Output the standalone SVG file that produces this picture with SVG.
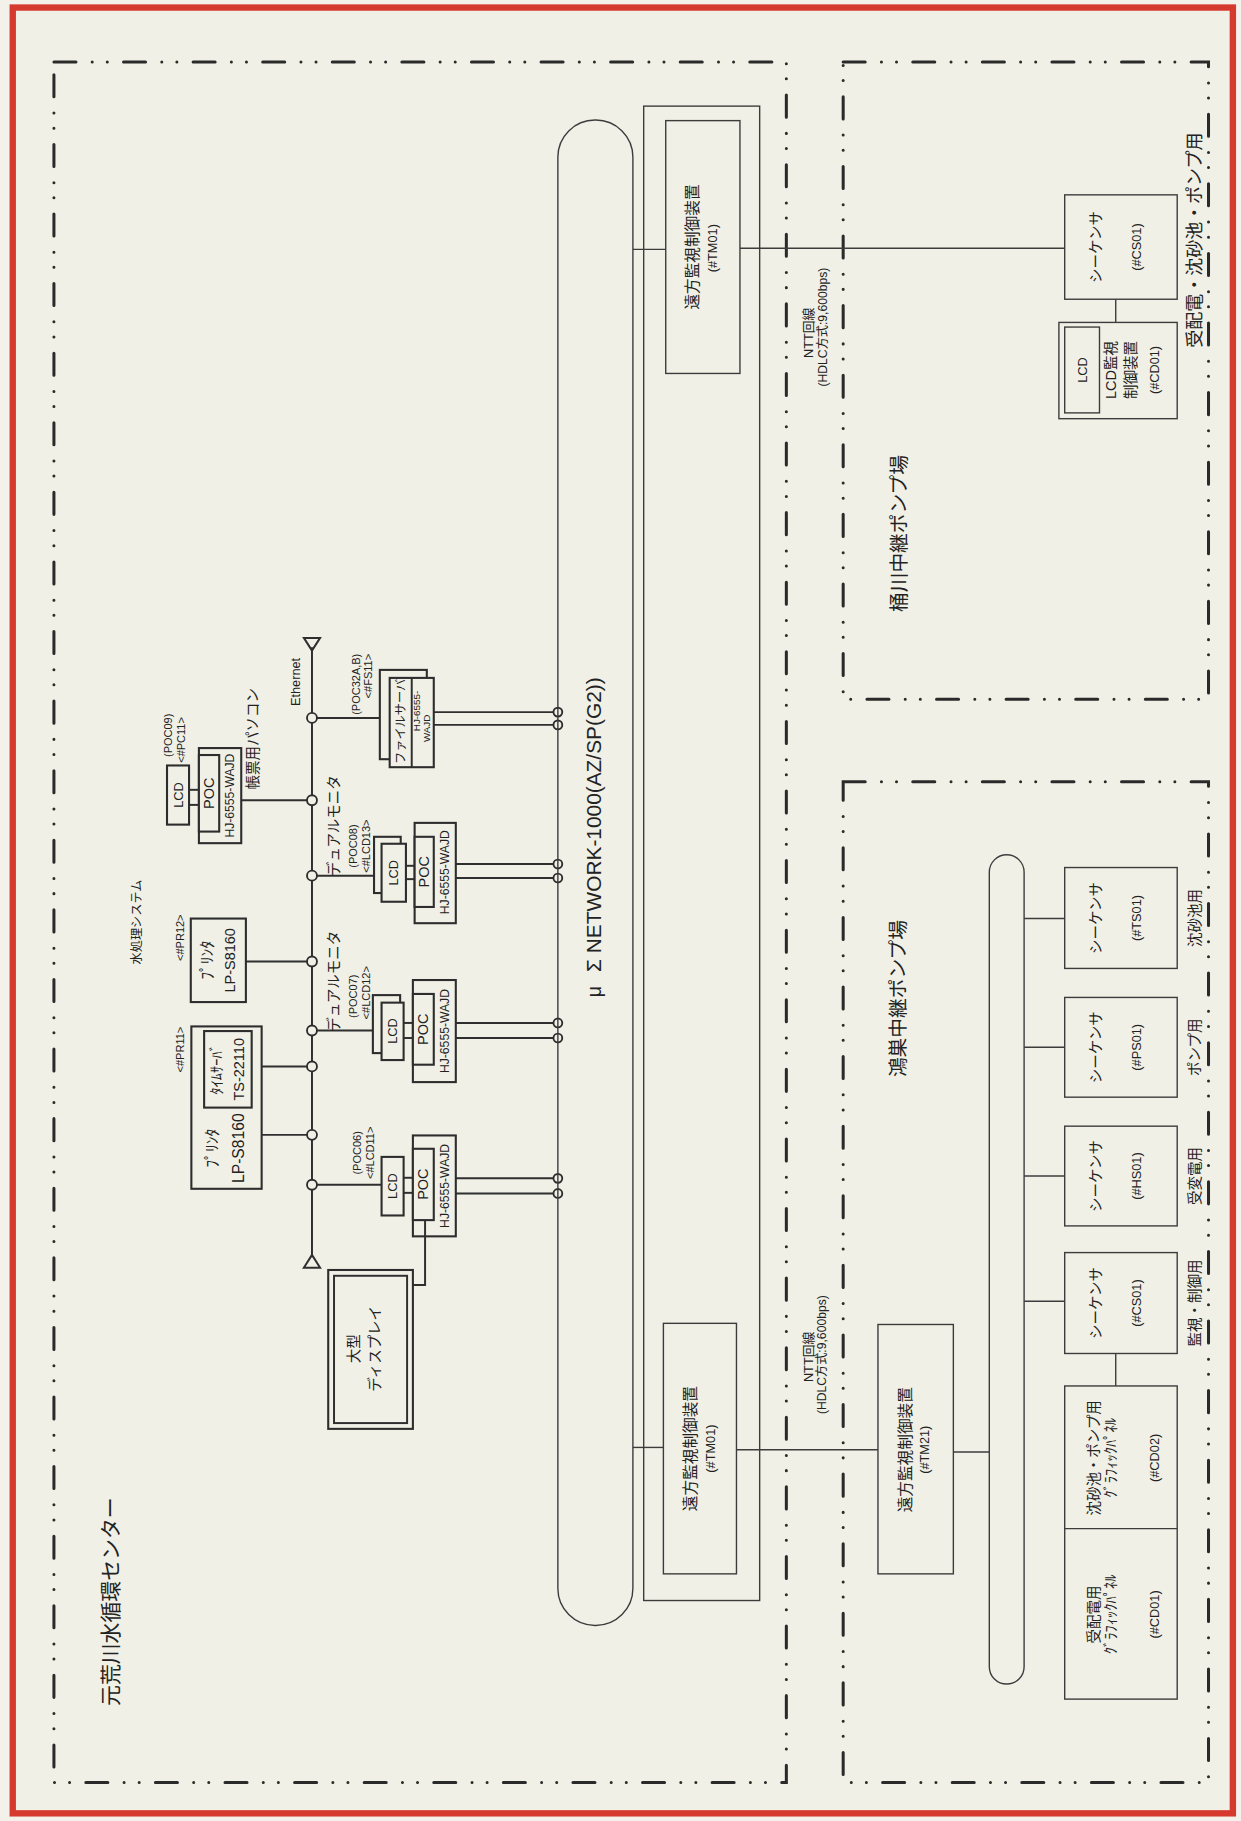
<svg xmlns="http://www.w3.org/2000/svg" width="1241" height="1821" viewBox="0 0 1241 1821">
<style>
.ln{stroke:#2f2f2f;stroke-width:1.7;fill:none}
.th{stroke:#3c3c3c;stroke-width:1.2;fill:none}
.bx{stroke:#2d2d2d;stroke-width:1.8;fill:#f0f0e7}
.tb{stroke:#3c3c3c;stroke-width:1.2;fill:#f0f0e7}
.dd{stroke:#2a2a2a;stroke-width:2.6;fill:none;stroke-linecap:round;stroke-dasharray:19 14 0 13 0 14}
.cn{stroke:#2d2d2d;stroke-width:1.6;fill:#f0f0e7}
text{font-family:"Liberation Sans","Noto Sans CJK JP",sans-serif;fill:#222;text-anchor:middle;dominant-baseline:central}
.f9{font-size:9.5px}
.f10{font-size:10.5px}
.f11{font-size:11px}
.f12{font-size:12.5px}
.f13{font-size:13.5px}
.f15{font-size:15.5px}
.f17{font-size:17px}
.f18{font-size:18px}
</style>
<rect width="1241" height="1821" fill="#f3f1ea"/>
<g transform="scale(1.1598)">
<rect x="11" y="6.5" width="1052" height="1557" fill="#f0f0e7" stroke="#d63a2f" stroke-width="5.5"/>

<g id="zones">
<path class="dd" d="M46.5 53.5H678V1537H46.5Z"/>
<path class="dd" d="M727 53.5H1042V603H727Z"/>
<path class="dd" d="M727 674H1042V1537H727Z"/>
<text class="f18" transform="translate(95 1381) rotate(-90)">元荒川水循環センター</text>
<text class="f17" transform="translate(775 460) rotate(-90)">桶川中継ポンプ場</text>
<text class="f17" transform="translate(774 861) rotate(-90)">鴻巣中継ポンプ場</text>
<text class="f10" transform="translate(118 795) rotate(-90)">水処理システム</text>
</g>

<g id="connectors">
<line class="ln" x1="269" y1="558" x2="269" y2="1084"/>
<polygon class="ln" points="262,550 276,550 269,561"/>
<polygon class="ln" points="269,1082 262,1093 276,1093"/>
<line class="ln" x1="208" y1="690" x2="269" y2="690"/>
<line class="ln" x1="269" y1="619" x2="327.5" y2="619"/>
<line class="ln" x1="374" y1="614" x2="481" y2="614"/>
<line class="ln" x1="374" y1="625" x2="481" y2="625"/>
<line class="ln" x1="212" y1="829" x2="269" y2="829"/>
<line class="ln" x1="269" y1="755" x2="322.5" y2="755"/>
<line class="ln" x1="393" y1="745" x2="481" y2="745"/>
<line class="ln" x1="393" y1="757" x2="481" y2="757"/>
<line class="ln" x1="225.6" y1="919.5" x2="269" y2="919.5"/>
<line class="ln" x1="225.6" y1="978.5" x2="269" y2="978.5"/>
<line class="ln" x1="269" y1="888.5" x2="321.5" y2="888.5"/>
<line class="ln" x1="393" y1="882" x2="481" y2="882"/>
<line class="ln" x1="393" y1="895" x2="481" y2="895"/>
<line class="ln" x1="269" y1="1021.5" x2="329" y2="1021.5"/>
<line class="ln" x1="393" y1="1016" x2="481" y2="1016"/>
<line class="ln" x1="393" y1="1029" x2="481" y2="1029"/>
<polyline class="ln" points="366.5,1052 366.5,1108 356,1108"/>
<line class="th" x1="545.7" y1="215" x2="574" y2="215"/>
<line class="th" x1="638" y1="214" x2="918" y2="214"/>
<line class="th" x1="545.7" y1="1248" x2="572" y2="1248"/>
<line class="th" x1="635" y1="1250" x2="757" y2="1250"/>
<line class="th" x1="822" y1="1252" x2="853" y2="1252"/>
<line class="th" x1="883" y1="792" x2="918" y2="792"/>
<line class="th" x1="883" y1="903" x2="918" y2="903"/>
<line class="th" x1="883" y1="1014" x2="918" y2="1014"/>
<line class="th" x1="883" y1="1122" x2="918" y2="1122"/>
<line class="th" x1="962" y1="1167" x2="962" y2="1195"/>
<line class="th" x1="962" y1="258" x2="962" y2="278"/>
<circle class="cn" cx="269" cy="619" r="4.3"/>
<circle class="cn" cx="269" cy="690" r="4.3"/>
<circle class="cn" cx="269" cy="755" r="4.3"/>
<circle class="cn" cx="269" cy="829" r="4.3"/>
<circle class="cn" cx="269" cy="888.5" r="4.3"/>
<circle class="cn" cx="269" cy="919.5" r="4.3"/>
<circle class="cn" cx="269" cy="978.5" r="4.3"/>
<circle class="cn" cx="269" cy="1021.5" r="4.3"/>
<circle class="cn" cx="481" cy="614" r="3.8"/>
<circle class="cn" cx="481" cy="625" r="3.8"/>
<circle class="cn" cx="481" cy="745" r="3.8"/>
<circle class="cn" cx="481" cy="757" r="3.8"/>
<circle class="cn" cx="481" cy="882" r="3.8"/>
<circle class="cn" cx="481" cy="895" r="3.8"/>
<circle class="cn" cx="481" cy="1016" r="3.8"/>
<circle class="cn" cx="481" cy="1029" r="3.8"/>
<text class="f11" transform="translate(255 588) rotate(-90)">Ethernet</text>
<text class="f11" transform="translate(697 287) rotate(-90)">NTT回線</text>
<text class="f10" transform="translate(710 282) rotate(-90)">(HDLC方式:9,600bps)</text>
<text class="f11" transform="translate(697 1170) rotate(-90)">NTT回線</text>
<text class="f10" transform="translate(709 1168) rotate(-90)">(HDLC方式:9,600bps)</text>
</g>

<g id="pc-poc09">
<rect class="bx" x="171.5" y="645" width="36.5" height="82"/>
<rect class="bx" x="171.5" y="651" width="17.5" height="66"/>
<rect class="bx" x="144" y="660" width="19" height="51"/>
<line class="ln" x1="163" y1="681" x2="171.5" y2="681"/>
<line class="ln" x1="163" y1="694" x2="171.5" y2="694"/>
<text class="f11" transform="translate(153.5 685.5) rotate(-90)">LCD</text>
<text class="f12" transform="translate(180.5 684) rotate(-90)">POC</text>
<text class="f10" transform="translate(198.5 686) rotate(-90)">HJ-6555-WAJD</text>
<text class="f9" transform="translate(145 634) rotate(-90)">(POC09)</text>
<text class="f9" transform="translate(156 638) rotate(-90)">&lt;#PC11&gt;</text>
<text class="f12" transform="translate(218 637) rotate(-90)">帳票用パソコン</text>
</g>

<g id="file-server">
<rect class="bx" x="327.5" y="577.6" width="40.5" height="77"/>
<rect class="bx" x="336" y="584.5" width="38" height="77"/>
<line class="ln" x1="355" y1="584.5" x2="355" y2="661.5"/>
<text class="f10" transform="translate(345.5 622) rotate(-90)">ファイルサーバ</text>
<text style="font-size:8.5px" transform="translate(359.5 613) rotate(-90)">HJ-6555-</text>
<text style="font-size:8.5px" transform="translate(368 628) rotate(-90)">WAJD</text>
<text class="f9" transform="translate(307 590) rotate(-90)">(POC32A,B)</text>
<text class="f9" transform="translate(317.5 583) rotate(-90)">&lt;#FS11&gt;</text>
</g>

<g id="dual-poc08">
<rect class="bx" x="322.5" y="721.5" width="23" height="48.5"/>
<rect class="bx" x="329" y="727.5" width="21" height="50"/>
<rect class="bx" x="357.5" y="709.5" width="35.5" height="86.5"/>
<rect class="bx" x="357.5" y="721.5" width="16.5" height="60.5"/>
<line class="ln" x1="350" y1="746.5" x2="357.5" y2="746.5"/>
<line class="ln" x1="350" y1="758" x2="357.5" y2="758"/>
<text class="f11" transform="translate(339.5 752.5) rotate(-90)">LCD</text>
<text class="f12" transform="translate(365.8 751.7) rotate(-90)">POC</text>
<text class="f10" transform="translate(383.5 752) rotate(-90)">HJ-6555-WAJD</text>
<text class="f12" transform="translate(288 712) rotate(-90)">デュアルモニタ</text>
<text class="f9" transform="translate(304.5 729.5) rotate(-90)">(POC08)</text>
<text class="f9" transform="translate(315.5 729.5) rotate(-90)">&lt;#LCD13&gt;</text>
</g>

<g id="printer-pr12">
<rect class="bx" x="164.5" y="792" width="47.5" height="72"/>
<text class="f13" transform="translate(179 828) rotate(-90)">ﾌﾟﾘﾝﾀ</text>
<text class="f12" transform="translate(198 828) rotate(-90)">LP-S8160</text>
<text class="f9" transform="translate(155 808.5) rotate(-90)">&lt;#PR12&gt;</text>
</g>

<g id="printer-pr11">
<rect class="bx" x="165" y="885" width="60.6" height="140"/>
<rect class="bx" x="176" y="889" width="41" height="66"/>
<text class="f12" transform="translate(187 922) rotate(-90)">ﾀｲﾑｻｰﾊﾞ</text>
<text class="f12" transform="translate(206 922) rotate(-90)">TS-22110</text>
<text class="f13" transform="translate(183 990) rotate(-90)">ﾌﾟﾘﾝﾀ</text>
<text class="f13" transform="translate(206 990) rotate(-90)">LP-S8160</text>
<text class="f9" transform="translate(155 905) rotate(-90)">&lt;#PR11&gt;</text>
</g>

<g id="dual-poc07">
<rect class="bx" x="321.5" y="858" width="23.5" height="50"/>
<rect class="bx" x="329" y="864.5" width="19" height="49.5"/>
<rect class="bx" x="356" y="845" width="37" height="88"/>
<rect class="bx" x="356" y="857" width="18" height="61"/>
<line class="ln" x1="348" y1="882" x2="356" y2="882"/>
<line class="ln" x1="348" y1="895" x2="356" y2="895"/>
<text class="f11" transform="translate(338.5 889) rotate(-90)">LCD</text>
<text class="f12" transform="translate(365 887.5) rotate(-90)">POC</text>
<text class="f10" transform="translate(383.5 889) rotate(-90)">HJ-6555-WAJD</text>
<text class="f12" transform="translate(288 846) rotate(-90)">デュアルモニタ</text>
<text class="f9" transform="translate(304.5 859) rotate(-90)">(POC07)</text>
<text class="f9" transform="translate(315.5 856) rotate(-90)">&lt;#LCD12&gt;</text>
</g>

<g id="poc06">
<rect class="bx" x="329" y="997.5" width="19" height="50.5"/>
<rect class="bx" x="356" y="979" width="37" height="87"/>
<rect class="bx" x="356" y="990.5" width="18" height="61.5"/>
<line class="ln" x1="348" y1="1015.5" x2="356" y2="1015.5"/>
<line class="ln" x1="348" y1="1028.5" x2="356" y2="1028.5"/>
<line class="ln" x1="366.5" y1="1052" x2="366.5" y2="1066"/>
<text class="f11" transform="translate(338.5 1022.7) rotate(-90)">LCD</text>
<text class="f12" transform="translate(365 1021) rotate(-90)">POC</text>
<text class="f10" transform="translate(383.5 1022.5) rotate(-90)">HJ-6555-WAJD</text>
<text class="f9" transform="translate(307.5 994) rotate(-90)">(POC06)</text>
<text class="f9" transform="translate(319 994) rotate(-90)">&lt;#LCD11&gt;</text>
</g>

<g id="large-display">
<rect class="bx" x="283" y="1095" width="73" height="137" stroke-width="2.4"/>
<rect class="ln" x="288" y="1100" width="63" height="127" stroke-width="1.3"/>
<text class="f12" transform="translate(305 1163) rotate(-90)">大型</text>
<text class="f12" transform="translate(323 1163) rotate(-90)">ディスプレイ</text>
</g>

<g id="network">
<rect class="th" x="481" y="103.5" width="64.7" height="1298" rx="32"/>
<text class="f17" transform="translate(512 855) rotate(-90)">μ</text>
<text class="f18" transform="translate(512 838) rotate(-90)" style="text-anchor:start">Σ NETWORK-1000(AZ/SP(G2))</text>
</g>

<g id="tm-frame">
<rect class="th" x="555" y="91.5" width="100" height="1288.5"/>
</g>

<g id="tm01-upper">
<rect class="tb" x="574" y="104" width="64" height="218"/>
<text class="f13" transform="translate(597.5 213) rotate(-90)">遠方監視制御装置</text>
<text class="f11" transform="translate(614.5 214) rotate(-90)">(#TM01)</text>
</g>

<g id="tm01-lower">
<rect class="tb" x="572" y="1141" width="63" height="216"/>
<text class="f13" transform="translate(595.5 1249) rotate(-90)">遠方監視制御装置</text>
<text class="f11" transform="translate(612.5 1249) rotate(-90)">(#TM01)</text>
</g>

<g id="tm21">
<rect class="tb" x="757" y="1142" width="65" height="215"/>
<text class="f13" transform="translate(781 1250) rotate(-90)">遠方監視制御装置</text>
<text class="f11" transform="translate(797.5 1250) rotate(-90)">(#TM21)</text>
</g>

<g id="konosu-bus">
<rect class="th" x="853" y="737" width="30" height="715" rx="15"/>
</g>

<g id="ts01">
<rect class="tb" x="918" y="748" width="97" height="87"/>
<text class="f12" transform="translate(945 791.5) rotate(-90)">シーケンサ</text>
<text class="f11" transform="translate(980 791.5) rotate(-90)">(#TS01)</text>
<text class="f12" transform="translate(1030 791.5) rotate(-90)">沈砂池用</text>
</g>
<g id="ps01">
<rect class="tb" x="918" y="860" width="97" height="86"/>
<text class="f12" transform="translate(945 903) rotate(-90)">シーケンサ</text>
<text class="f11" transform="translate(980 903) rotate(-90)">(#PS01)</text>
<text class="f12" transform="translate(1030 903) rotate(-90)">ポンプ用</text>
</g>
<g id="hs01">
<rect class="tb" x="918" y="971" width="97" height="86"/>
<text class="f12" transform="translate(945 1014) rotate(-90)">シーケンサ</text>
<text class="f11" transform="translate(980 1014) rotate(-90)">(#HS01)</text>
<text class="f12" transform="translate(1030 1014) rotate(-90)">受変電用</text>
</g>
<g id="cs01-konosu">
<rect class="tb" x="918" y="1080" width="97" height="87"/>
<text class="f12" transform="translate(945 1123.5) rotate(-90)">シーケンサ</text>
<text class="f11" transform="translate(980 1123.5) rotate(-90)">(#CS01)</text>
<text class="f12" transform="translate(1030 1123.5) rotate(-90)">監視・制御用</text>
</g>
<g id="cd-panels">
<rect class="tb" x="918" y="1195" width="97" height="270"/>
<line class="th" x1="918" y1="1318" x2="1015" y2="1318"/>
<text class="f12" transform="translate(943 1257) rotate(-90)">沈砂池・ポンプ用</text>
<text class="f12" transform="translate(958 1257) rotate(-90)">ｸﾞﾗﾌｨｯｸﾊﾟﾈﾙ</text>
<text class="f11" transform="translate(995 1257) rotate(-90)">(#CD02)</text>
<text class="f12" transform="translate(943 1392) rotate(-90)">受配電用</text>
<text class="f12" transform="translate(958 1392) rotate(-90)">ｸﾞﾗﾌｨｯｸﾊﾟﾈﾙ</text>
<text class="f11" transform="translate(995 1392) rotate(-90)">(#CD01)</text>
</g>

<g id="cs01-okegawa">
<rect class="tb" x="918" y="168" width="97" height="90"/>
<text class="f12" transform="translate(945 213) rotate(-90)">シーケンサ</text>
<text class="f11" transform="translate(980 213) rotate(-90)">(#CS01)</text>
<text class="f15" transform="translate(1030 207) rotate(-90)">受配電・沈砂池・ポンプ用</text>
</g>
<g id="lcd-cd01-okegawa">
<rect class="tb" x="913" y="278" width="102" height="83"/>
<rect class="tb" x="918" y="282" width="30" height="74"/>
<text class="f11" transform="translate(933 319) rotate(-90)">LCD</text>
<text class="f12" transform="translate(958 319) rotate(-90)">LCD監視</text>
<text class="f12" transform="translate(975 319) rotate(-90)">制御装置</text>
<text class="f11" transform="translate(995 319) rotate(-90)">(#CD01)</text>
</g>
</g>
</svg>
